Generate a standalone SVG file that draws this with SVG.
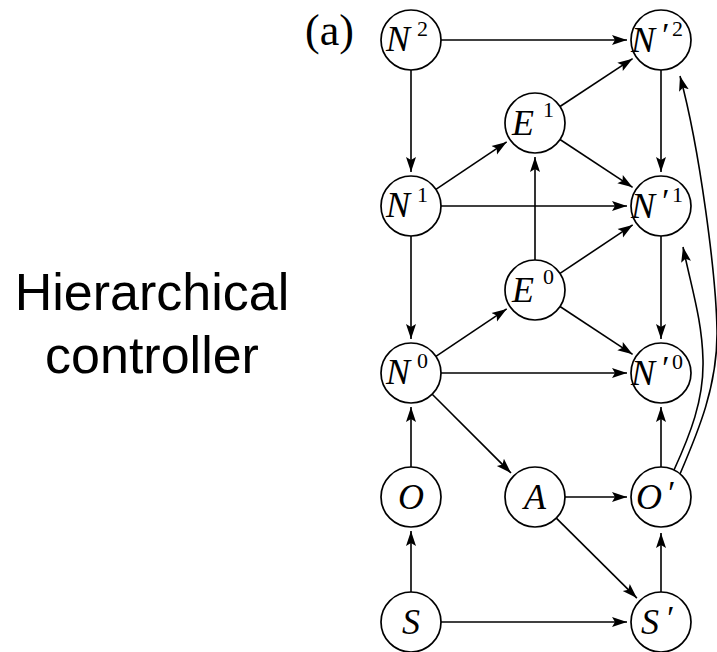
<svg xmlns="http://www.w3.org/2000/svg" width="717" height="652" viewBox="0 0 717 652">
  <style>
    .node circle { fill: #fff; stroke: #000; stroke-width: 1.7; }
    .lbl { font-family: "Liberation Serif", "DejaVu Serif", serif; font-style: italic; font-size: 36px; fill: #000; }
    .sup { font-family: "Liberation Serif", "DejaVu Serif", serif; font-style: normal; font-size: 22px; fill: #000; }
    .pr { font-family: "Liberation Serif", "DejaVu Serif", serif; font-style: italic; font-size: 34px; fill: #000; }
    .edges path { fill: none; stroke: #000; stroke-width: 1.6; marker-end: url(#arrow); }
    .title { font-family: "Liberation Sans", Arial, sans-serif; font-size: 52px; fill: #000; text-anchor: middle; }
    .tag { font-family: "Liberation Serif", "DejaVu Serif", serif; font-size: 44px; fill: #000; }
  </style>
  <defs>
    <marker id="arrow" markerUnits="userSpaceOnUse" markerWidth="18" markerHeight="14" viewBox="0 -7 18 14" refX="15" refY="0" orient="auto">
      <path d="M0,-5 L15,0 L0,5 L3,0 Z" fill="#000"/>
    </marker>
  </defs>
  <rect width="717" height="652" fill="#fff"/>

  <text class="title" x="152" y="310">Hierarchical</text>
  <text class="title" x="152" y="373">controller</text>
  <text class="tag" x="305" y="45">(a)</text>

  <!-- connectors -->
  <g class="edges" id="edges">
    <path d="M441,40 L627,40"/>
    <path d="M411,70 L411,172"/>
    <path d="M435.9,189.3 L506.7,141.9"/>
    <path d="M560,106.5 L632.6,58.7"/>
    <path d="M560,139.5 L632.6,187.3"/>
    <path d="M441,206 L627,206"/>
    <path d="M535,260 L535,157"/>
    <path d="M661,70 L661,172"/>
    <path d="M411,236 L411,339"/>
    <path d="M435.9,356.3 L506.7,308.9"/>
    <path d="M560,273.4 L632.7,224.9"/>
    <path d="M560,306.5 L632.6,354.3"/>
    <path d="M441,373 L627,373"/>
    <path d="M661,236 L661,339"/>
    <path d="M411,467 L411,407"/>
    <path d="M432.2,394.2 L511,473"/>
    <path d="M565,497 L627,497"/>
    <path d="M556.3,518.1 L636.9,598.1"/>
    <path d="M661,467 L661,407"/>
    <path d="M411,592 L411,531"/>
    <path d="M441,622 L627,622"/>
    <path d="M661,592 L661,533"/>
    <path d="M680,474 C698,432 718,385 717,330 S700,150 680,76"/>
    <path d="M674,470 C690,435 704,400 703,360 S692,290 683,247"/>
  </g>

  <!-- nodes -->
  <g class="node" id="N2">
    <circle cx="411" cy="40" r="30"/>
    <text class="lbl" x="386" y="51">N</text><text class="sup" x="417" y="36">2</text>
  </g>
  <g class="node" id="Np2">
    <circle cx="661" cy="40" r="30"/>
    <text class="lbl" x="631" y="52">N</text><text class="pr" x="660" y="46">′</text><text class="sup" x="672" y="36">2</text>
  </g>
  <g class="node" id="E1">
    <circle cx="535" cy="123" r="30"/>
    <text class="lbl" x="512" y="135">E</text><text class="sup" x="543" y="117">1</text>
  </g>
  <g class="node" id="N1">
    <circle cx="411" cy="206" r="30"/>
    <text class="lbl" x="386" y="217">N</text><text class="sup" x="417" y="202">1</text>
  </g>
  <g class="node" id="Np1">
    <circle cx="661" cy="206" r="30"/>
    <text class="lbl" x="631" y="218">N</text><text class="pr" x="660" y="212">′</text><text class="sup" x="672" y="202">1</text>
  </g>
  <g class="node" id="E0">
    <circle cx="535" cy="290" r="30"/>
    <text class="lbl" x="512" y="302">E</text><text class="sup" x="543" y="284">0</text>
  </g>
  <g class="node" id="N0">
    <circle cx="411" cy="373" r="30"/>
    <text class="lbl" x="386" y="384">N</text><text class="sup" x="417" y="368">0</text>
  </g>
  <g class="node" id="Np0">
    <circle cx="661" cy="373" r="30"/>
    <text class="lbl" x="631" y="385">N</text><text class="pr" x="660" y="379">′</text><text class="sup" x="672" y="369">0</text>
  </g>
  <g class="node" id="O">
    <circle cx="411" cy="497" r="30"/>
    <text class="lbl" x="411" y="509" text-anchor="middle">O</text>
  </g>
  <g class="node" id="A">
    <circle cx="535" cy="497" r="30"/>
    <text class="lbl" x="535" y="509" text-anchor="middle">A</text>
  </g>
  <g class="node" id="Op">
    <circle cx="661" cy="497" r="30"/>
    <text class="lbl" x="636" y="509">O</text><text class="pr" x="666" y="504">′</text>
  </g>
  <g class="node" id="S">
    <circle cx="411" cy="622" r="30"/>
    <text class="lbl" x="411" y="634" text-anchor="middle">S</text>
  </g>
  <g class="node" id="Sp">
    <circle cx="661" cy="622" r="30"/>
    <text class="lbl" x="641" y="634">S</text><text class="pr" x="665" y="629">′</text>
  </g>
</svg>
